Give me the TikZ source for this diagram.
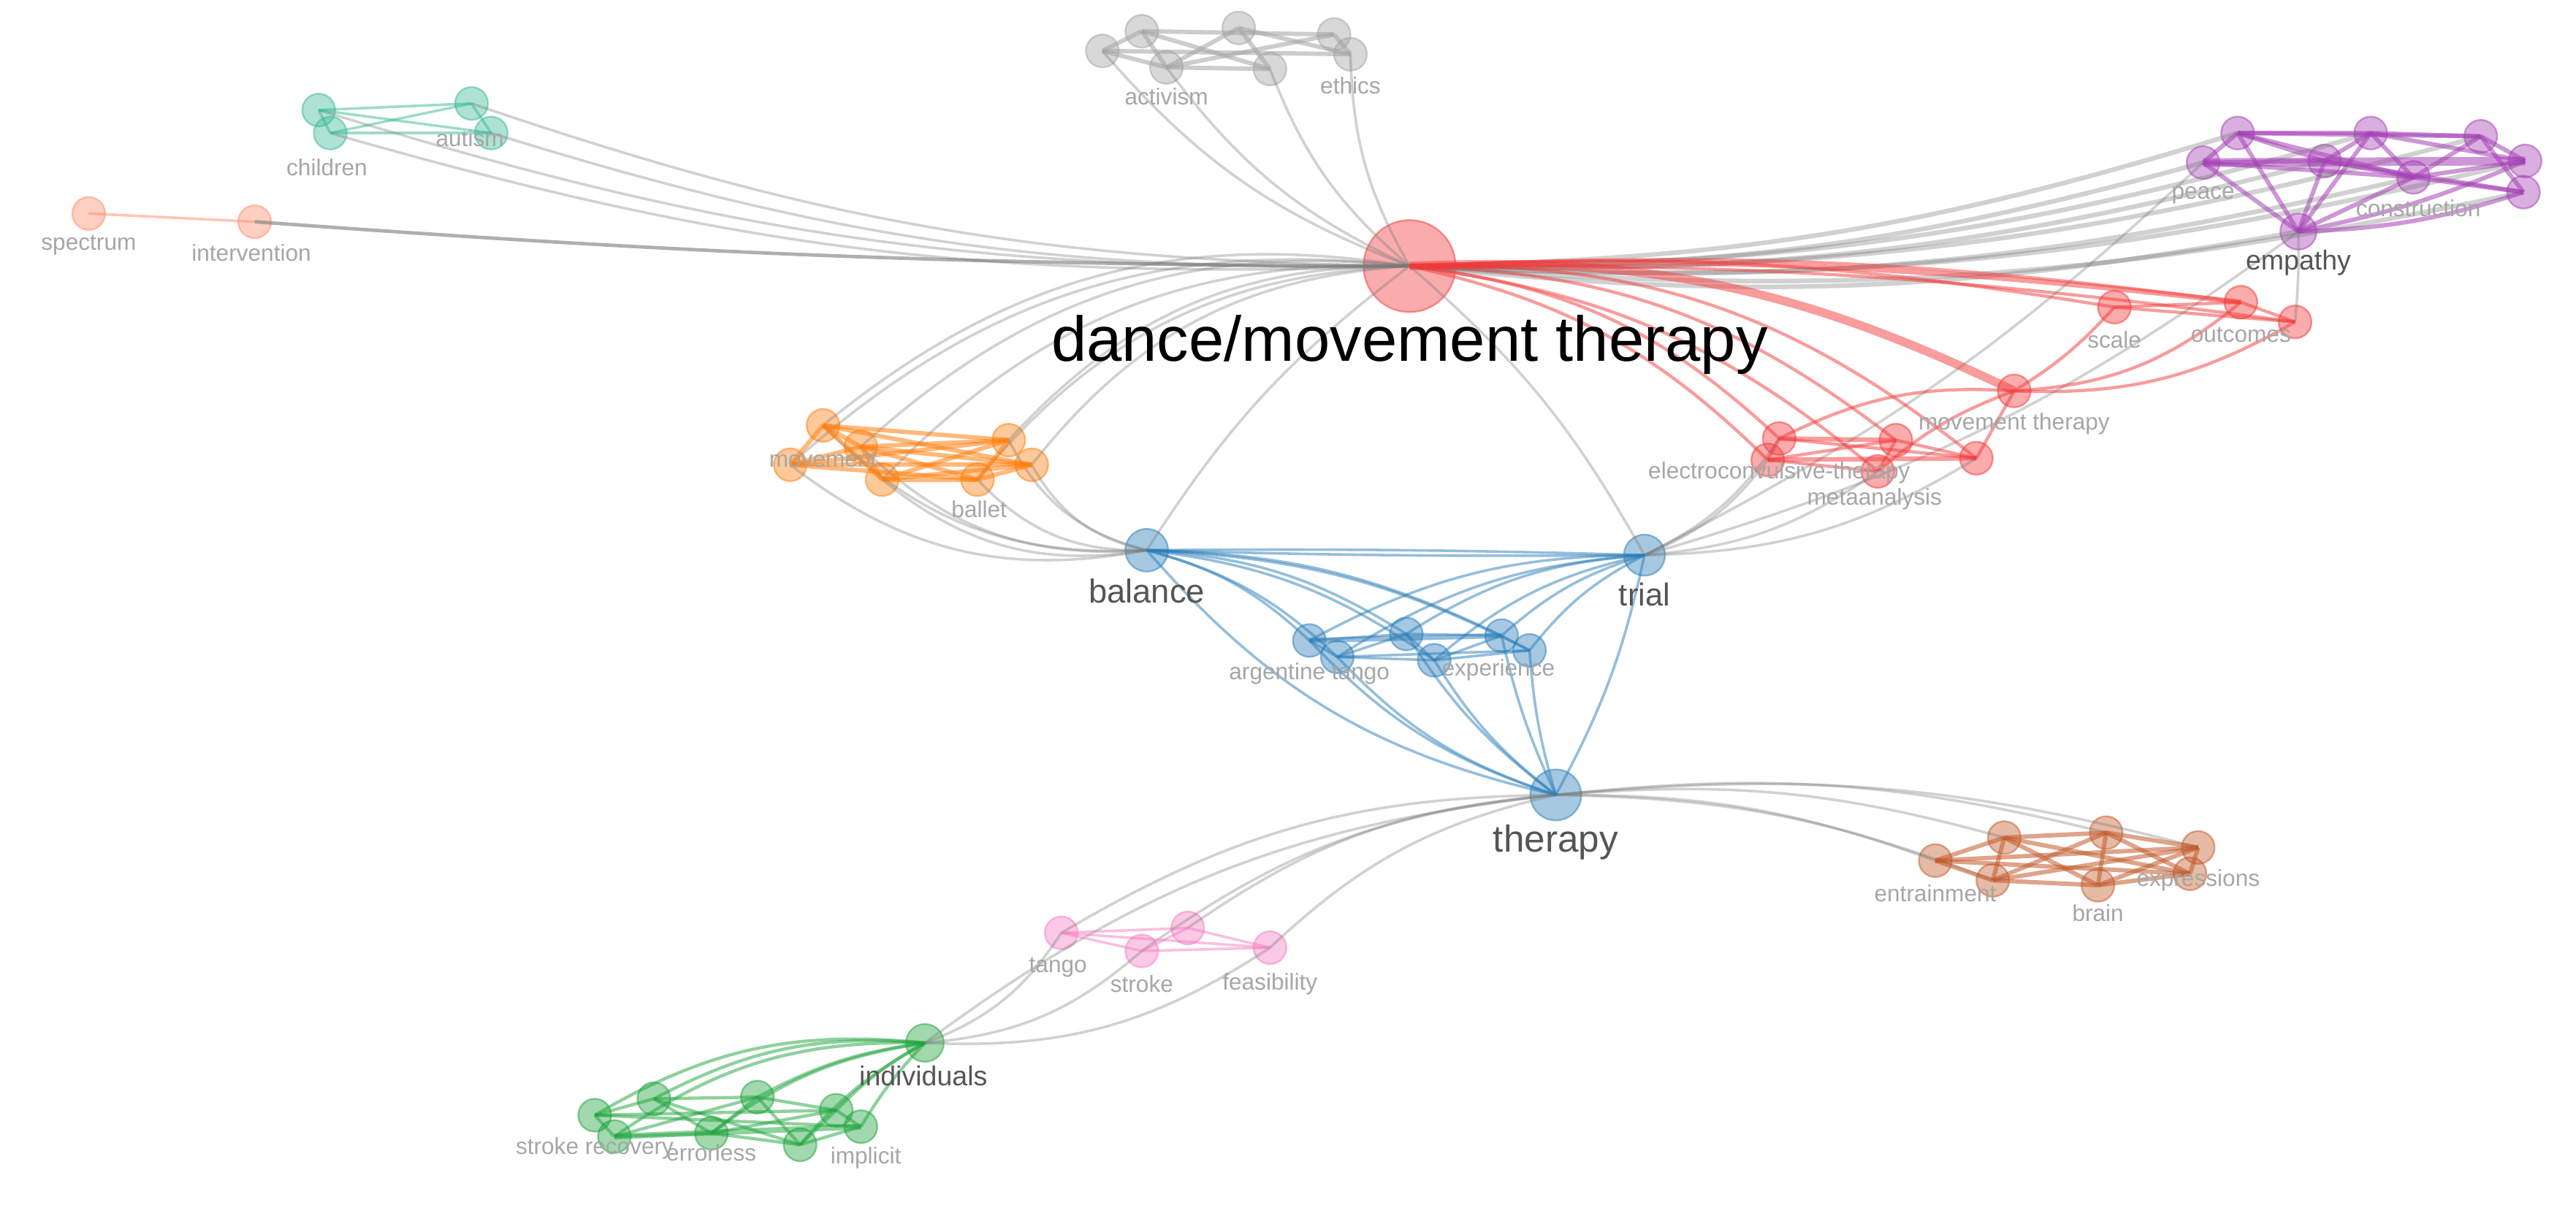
\documentclass[tikz,border=0pt]{standalone}
\usepackage{fontspec}
\setmainfont{Liberation Sans}
\usetikzlibrary{arrows}

\definecolor{kred}{HTML}{F23A3A}
\definecolor{kgray}{HTML}{A3A3A3}
\definecolor{kteal}{HTML}{3DB994}
\definecolor{ksalmon}{HTML}{FF8C6E}
\definecolor{kpurple}{HTML}{A440B4}
\definecolor{korange}{HTML}{FF7F0E}
\definecolor{kblue}{HTML}{2A7DB8}
\definecolor{kbrown}{HTML}{C25A2A}
\definecolor{kpink}{HTML}{F47FC2}
\definecolor{kgreen}{HTML}{1EA33C}
\definecolor{edgegray}{HTML}{7A7A7A}
\definecolor{lbgray}{HTML}{A6A6A6}
\definecolor{ldgray}{HTML}{555555}

\begin{document}
\begin{tikzpicture}[x=0.02cm,y=-0.02cm,semithick]
  \tikzstyle{kw}=[circle,inner sep=0pt,minimum size=0.4cm,fill opacity=0.42,draw opacity=0.5,line width=0.6pt]
  \tikzstyle{rednode}=[kw,fill=kred,draw=kred]
  \tikzstyle{graynode}=[kw,fill=kgray,draw=kgray]
  \tikzstyle{tealnode}=[kw,fill=kteal,draw=kteal]
  \tikzstyle{salmonnode}=[kw,fill=ksalmon,draw=ksalmon]
  \tikzstyle{purplenode}=[kw,fill=kpurple,draw=kpurple]
  \tikzstyle{orangenode}=[kw,fill=korange,draw=korange]
  \tikzstyle{bluenode}=[kw,fill=kblue,draw=kblue]
  \tikzstyle{brownnode}=[kw,fill=kbrown,draw=kbrown]
  \tikzstyle{pinknode}=[kw,fill=kpink,draw=kpink]
  \tikzstyle{greennode}=[kw,fill=kgreen,draw=kgreen]
  \tikzstyle{lbl}=[text=lbgray,font=\fontsize{8}{8}\selectfont,inner sep=0pt]
  \tikzstyle{dlbl}=[text=ldgray,inner sep=0pt]
  \tikzstyle{link}=[draw=edgegray,draw opacity=0.35,line width=0.9pt]
  \tikzstyle{tie}=[draw opacity=0.5,line width=0.9pt]
  \tikzstyle{thicktie}=[draw opacity=0.55,line width=1.5pt]

  \useasboundingbox (0,0) rectangle (1568,735.5);

  % keywords
  \node[rednode,minimum size=1.12cm] (dmt) at (858,162) {};

  \node[graynode] (a1) at (671,31) {};
  \node[graynode] (a2) at (695,19) {};
  \node[graynode] (a3) at (710,41) {};
  \node[graynode] (a4) at (754,17) {};
  \node[graynode] (a5) at (773,42) {};
  \node[graynode] (a6) at (812,21) {};
  \node[graynode] (a7) at (822,33) {};

  \node[tealnode] (c1) at (194,67) {};
  \node[tealnode] (c2) at (201,81) {};
  \node[tealnode] (c3) at (287,63) {};
  \node[tealnode] (c4) at (299,81) {};

  \node[salmonnode] (sp) at (54,130) {};
  \node[salmonnode] (iv) at (155,135) {};

  \node[purplenode] (p1) at (1362,81) {};
  \node[purplenode] (p2) at (1341,99) {};
  \node[purplenode] (p3) at (1443,81) {};
  \node[purplenode] (p4) at (1510,83) {};
  \node[purplenode] (p5) at (1537,98) {};
  \node[purplenode] (p6) at (1536,117) {};
  \node[purplenode] (p7) at (1415,98) {};
  \node[purplenode] (p8) at (1469,108) {};
  \node[purplenode,minimum size=0.44cm] (emp) at (1399,141) {};

  \node[rednode] (mt) at (1226,238) {};
  \node[rednode] (sc) at (1287,187) {};
  \node[rednode] (oc) at (1364,184) {};
  \node[rednode] (r3) at (1397,196) {};
  \node[rednode] (e1) at (1083,267) {};
  \node[rednode] (e2) at (1076,280) {};
  \node[rednode] (e3) at (1154,268) {};
  \node[rednode] (e4) at (1143,287) {};
  \node[rednode] (e5) at (1203,279) {};

  \node[orangenode] (o1) at (501,259) {};
  \node[orangenode] (o2) at (481,283) {};
  \node[orangenode] (o3) at (537,292) {};
  \node[orangenode] (o4) at (595,292) {};
  \node[orangenode] (o5) at (614,268) {};
  \node[orangenode] (o6) at (628,283) {};
  \node[orangenode] (o7) at (524,272) {};

  \node[bluenode,minimum size=0.52cm] (bal) at (698,335) {};
  \node[bluenode,minimum size=0.5cm] (tri) at (1001,338) {};
  \node[bluenode,minimum size=0.62cm] (ther) at (947,484) {};
  \node[bluenode] (b1) at (797,390) {};
  \node[bluenode] (b2) at (814,400) {};
  \node[bluenode] (b3) at (856,386) {};
  \node[bluenode] (b4) at (873,402) {};
  \node[bluenode] (b5) at (914,387) {};
  \node[bluenode] (b6) at (931,396) {};

  \node[brownnode] (w1) at (1178,524) {};
  \node[brownnode] (w2) at (1220,510) {};
  \node[brownnode] (w3) at (1213,536) {};
  \node[brownnode] (w4) at (1282,507) {};
  \node[brownnode] (w5) at (1277,539) {};
  \node[brownnode] (w6) at (1338,516) {};
  \node[brownnode] (w7) at (1333,532) {};

  \node[pinknode] (k1) at (646,568) {};
  \node[pinknode] (k2) at (723,565) {};
  \node[pinknode] (k3) at (695,579) {};
  \node[pinknode] (k4) at (773,577) {};

  \node[greennode,minimum size=0.46cm] (ind) at (563,635) {};
  \node[greennode] (g1) at (362,679) {};
  \node[greennode] (g2) at (398,669) {};
  \node[greennode] (g3) at (374,692) {};
  \node[greennode] (g4) at (433,690) {};
  \node[greennode] (g5) at (461,668) {};
  \node[greennode] (g6) at (509,676) {};
  \node[greennode] (g7) at (487,697) {};
  \node[greennode] (g8) at (524,686) {};

  % gray links from the centre
  \foreach \n in {a1,a3,a5,a7}
    \draw[link] (dmt.center) to[bend left=14] (\n.center);
  \foreach \n in {c1,c2,c3,c4}
    \draw[link] (dmt.center) to[bend left=9] (\n.center);
  \draw[link,draw opacity=0.6,line width=1.2pt] (dmt.center) to[bend left=2] (iv.center);
  \foreach \n in {p1,p2,p3,p4,p5,p6,p7,p8,emp}
    \draw[link,line width=1.6pt] (dmt.center) to[bend right=8] (\n.center);
  \foreach \n in {o1,o2,o3,o4,o5,o6,o7}
    \draw[link] (dmt.center) to[bend right=24] (\n.center);
  \foreach \n in {o1,o2,o3,o4,o5,o6,o7}
    \draw[link] (bal.center) to[bend left=24] (\n.center);
  \foreach \n in {e1,e2,e4,e5}
    \draw[link] (tri.center) to[bend right=15] (\n.center);
  \foreach \n in {w1,w2,w4,w6,w3}
    \draw[link] (ther.center) to[bend left=10] (\n.center);
  \foreach \n in {k1,k2,k3,k4,ind}
    \draw[link] (ther.center) to[bend right=15] (\n.center);
  \foreach \n in {k1,k3,k4}
    \draw[link] (ind.center) to[bend right=18] (\n.center);
  \path[link] (dmt.center) edge[bend right=10] (bal.center)
                           edge[bend left=10]  (tri.center)
              (tri.center) edge[bend right=10] (emp.center)
                           edge[bend right=8]  (p2.center)
              (r3.center)  edge[bend right=3]  (emp.center);

  % gray cluster
  \path[thicktie,draw=kgray] (a1.center) edge (a7.center) edge (a3.center) edge (a2.center)
        (a2.center) edge (a6.center) edge (a3.center) edge (a5.center)
        (a3.center) edge (a5.center) edge (a4.center)
        (a4.center) edge (a5.center) edge (a7.center)
        (a6.center) edge (a7.center) edge (a3.center);

  % teal and salmon
  \path[tie,draw=kteal] (c1.center) edge (c3.center) edge (c4.center) edge (c2.center)
        (c2.center) edge (c3.center) edge (c4.center)
        (c3.center) edge (c4.center);
  \path[tie,draw=ksalmon] (sp.center) edge (iv.center);

  % purple
  \path[thicktie,draw=kpurple]
        (p2.center) edge[line width=3pt] (p5.center) edge (p1.center) edge (emp.center) edge (p8.center) edge (p7.center)
        (p1.center) edge (p3.center) edge (p7.center) edge (emp.center) edge (p4.center) edge (p8.center)
        (p3.center) edge (p4.center) edge (p5.center) edge (p8.center) edge (emp.center) edge (p7.center)
        (p4.center) edge (p6.center) edge (p5.center) edge (p8.center)
        (p7.center) edge (p8.center) edge (emp.center) edge (p6.center)
        (emp.center) edge[bend right=8] (p6.center) edge[bend right=6] (p5.center) edge (p8.center)
        (p8.center) edge (p6.center) edge (p5.center);

  % red
  \path[tie,draw=kred,line width=1.1pt]
        (dmt.center) edge[bend left=14,line width=3pt] (mt.center)
                     edge[bend left=6] (sc.center) edge[bend left=5] (oc.center)
                     edge[bend left=4] (r3.center) edge[bend left=4,line width=1.8pt] (oc.center)
                     edge[bend left=18] (e1.center) edge[bend left=16] (e2.center)
                     edge[bend left=18] (e3.center) edge[bend left=16] (e4.center)
                     edge[bend left=20] (e5.center)
        (mt.center) edge[bend right=8] (sc.center) edge[bend right=18] (oc.center) edge[bend right=16] (r3.center)
                    edge[bend right=15] (e1.center) edge[bend right=10] (e4.center) edge (e5.center)
        (sc.center) edge (oc.center) edge (r3.center)
        (oc.center) edge (r3.center)
        (e1.center) edge[line width=1.6pt] (e3.center) edge (e5.center) edge (e2.center)
        (e2.center) edge (e3.center) edge[line width=1.6pt] (e5.center) edge (e4.center)
        (e3.center) edge (e5.center) edge (e4.center);

  % orange
  \path[thicktie,draw=korange]
        (o1.center) edge (o5.center) edge (o6.center) edge (o2.center) edge (o3.center) edge (o7.center)
        (o2.center) edge (o6.center) edge (o5.center) edge (o4.center) edge (o7.center)
        (o3.center) edge (o5.center) edge (o6.center) edge (o7.center) edge (o4.center)
        (o7.center) edge (o5.center) edge (o6.center) edge (o4.center)
        (o4.center) edge (o5.center) edge (o6.center);

  % blue
  \path[tie,draw=kblue]
        (bal.center) edge[bend left=1] (tri.center) edge[bend right=1] (tri.center)
                     edge[bend left=14] (b1.center) edge[bend left=14] (b2.center)
                     edge[bend left=14] (b3.center) edge[bend left=14] (b4.center)
                     edge[bend left=12] (b5.center) edge[bend left=12] (b6.center)
        (tri.center) edge[bend right=14] (b1.center) edge[bend right=14] (b2.center)
                     edge[bend right=14] (b3.center) edge[bend right=14] (b4.center)
                     edge[bend right=12] (b5.center) edge[bend right=12] (b6.center)
        (ther.center) edge[bend left=18] (bal.center) edge[bend right=8] (tri.center)
                      edge[bend left=14] (b1.center) edge[bend left=14] (b2.center)
                      edge[bend left=10] (b3.center) edge[bend left=10] (b4.center)
                      edge[bend left=6] (b5.center) edge[bend left=6] (b6.center)
        (b1.center) edge[line width=1.8pt] (b5.center) edge (b3.center) edge (b2.center)
        (b2.center) edge (b4.center) edge (b6.center) edge (b3.center)
        (b3.center) edge (b5.center) edge (b4.center)
        (b4.center) edge (b6.center) edge (b5.center)
        (b5.center) edge (b6.center);

  % brown
  \path[thicktie,draw=kbrown]
        (w1.center) edge (w6.center) edge (w7.center) edge (w2.center) edge (w3.center)
        (w2.center) edge (w4.center) edge (w7.center) edge (w5.center) edge (w3.center)
        (w3.center) edge (w5.center) edge (w6.center) edge (w4.center)
        (w4.center) edge (w6.center) edge (w5.center) edge (w7.center)
        (w5.center) edge (w7.center) edge (w6.center)
        (w6.center) edge (w7.center);

  % pink
  \path[tie,draw=kpink] (k1.center) edge (k2.center) edge (k3.center) edge (k4.center)
        (k2.center) edge (k4.center) edge (k3.center)
        (k3.center) edge (k4.center);

  % green
  \path[tie,draw=kgreen,line width=1.1pt]
        (ind.center) edge[bend right=18] (g1.center) edge[bend right=16] (g2.center)
                     edge[bend right=18] (g3.center) edge[bend right=14] (g4.center)
                     edge[bend right=10] (g5.center) edge[bend right=8] (g6.center)
                     edge[bend right=10] (g7.center) edge[bend right=6] (g8.center)
        (g1.center) edge (g8.center) edge (g6.center) edge (g2.center) edge (g3.center)
        (g2.center) edge (g5.center) edge (g7.center) edge (g4.center)
        (g3.center) edge[line width=2pt] (g8.center) edge (g5.center) edge (g4.center)
        (g4.center) edge (g5.center) edge (g6.center) edge (g7.center)
        (g5.center) edge (g6.center) edge (g7.center)
        (g6.center) edge (g8.center) edge (g7.center)
        (g7.center) edge (g8.center);

  % labels
  \node[inner sep=0pt,font=\fontsize{22}{22}\selectfont] (ldmt) at (858,210) {dance/movement therapy};
  \node[lbl] (l1) at (710,59) {activism};
  \node[lbl] (l2) at (822,52) {ethics};
  \node[lbl] (l3) at (199,102) {children};
  \node[lbl] (l4) at (286,84) {autism};
  \node[lbl] (l5) at (54,149) {spectrum};
  \node[lbl] (l6) at (153,154) {intervention};
  \node[lbl] (l7) at (1341,119) {peace};
  \node[lbl] (l8) at (1472,127) {construction};
  \node[dlbl,font=\fontsize{9.5}{9.5}\selectfont] (l9) at (1399,160) {empathy};
  \node[lbl] (l10) at (1287,207) {scale};
  \node[lbl] (l11) at (1364,204) {outcomes};
  \node[lbl] (l12) at (1226,258) {movement therapy};
  \node[lbl] (l13) at (1083,288) {electroconvulsive-therapy};
  \node[lbl] (l14) at (1141,304) {metaanalysis};
  \node[lbl] (l15) at (501,280) {movement};
  \node[lbl] (l16) at (596,310) {ballet};
  \node[dlbl,font=\fontsize{11.5}{11.5}\selectfont] (l17) at (698,360) {balance};
  \node[dlbl,font=\fontsize{11}{11}\selectfont] (l18) at (1001,362) {trial};
  \node[lbl] (l19) at (797,410) {argentine tango};
  \node[lbl] (l20) at (912,408) {experience};
  \node[dlbl,font=\fontsize{13}{13}\selectfont] (l21) at (947,513) {therapy};
  \node[lbl] (l22) at (1178,544) {entrainment};
  \node[lbl] (l23) at (1277,556) {brain};
  \node[lbl] (l24) at (1338,536) {expressions};
  \node[lbl] (l25) at (644,589) {tango};
  \node[lbl] (l26) at (695,599) {stroke};
  \node[lbl] (l27) at (773,599) {feasibility};
  \node[dlbl,font=\fontsize{9.5}{9.5}\selectfont] (l28) at (562,655) {individuals};
  \node[lbl] (l29) at (362,699) {stroke recovery};
  \node[lbl] (l30) at (433,702) {errorless};
  \node[lbl] (l31) at (527,705) {implicit};
\end{tikzpicture}
\end{document}
